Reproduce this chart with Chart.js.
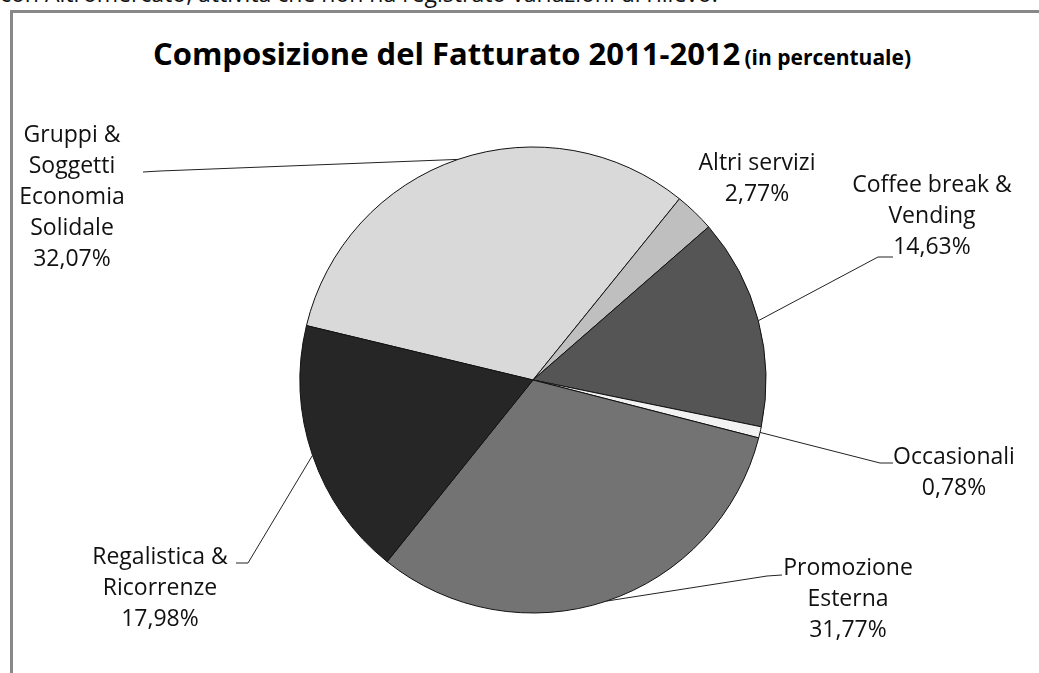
<!DOCTYPE html>
<html>
<head>
<meta charset="utf-8">
<script src="https://cdn.jsdelivr.net/npm/chart.js@4"></script>
<style>
	html, body { margin: 0; padding: 0; background: #fff; }
	body { width: 1039px; height: 673px; position: relative; overflow: hidden; font-family: "Open Sans", sans-serif; color: #111; }
	#intro { position: absolute; left: 0; top: -23px; font-size: 23px; line-height: 32px; white-space: nowrap; }
	#frame { position: absolute; left: 10px; top: 10px; width: 1100px; height: 700px; border-left: 3px solid #888; border-top: 3px solid #888; }
	#title { position: absolute; left: 532px; top: 32px; transform: translateX(-50%); white-space: nowrap; font-weight: bold; color: #000; }
	#title .main { font-size: 31px; }
	#title .sub { font-size: 21px; }
	#chart-wrap { position: absolute; left: 0; top: 0; width: 1039px; height: 673px; }
</style>
</head>
<body>
<div id="intro">con Altromercato, attività che non ha registrato variazioni di rilievo.</div>
<div id="frame"></div>
<div id="title"><span class="main">Composizione del Fatturato 2011-2012</span> <span class="sub">(in percentuale)</span></div>
<div id="chart-wrap"><canvas id="chart-fatturato"></canvas></div>
<script>
// Data
const CATEGORIES = [
	"Gruppi & Soggetti Economia Solidale",
	"Altri servizi",
	"Coffee break & Vending",
	"Occasionali",
	"Promozione Esterna",
	"Regalistica & Ricorrenze",
];
const LABEL_LINES = [
	["Gruppi &", "Soggetti", "Economia", "Solidale"],
	["Altri servizi"],
	["Coffee break &", "Vending"],
	["Occasionali"],
	["Promozione", "Esterna"],
	["Regalistica &", "Ricorrenze"],
];
const VALUES = [32.07, 2.77, 14.63, 0.78, 31.77, 17.98];
const COLORS = ["#d9d9d9", "#bfbfbf", "#555555", "#f2f2f2", "#737373", "#262626"];

// Label placement (manual, as in the original), leader = [elbow, end]
const LABEL_POS = [
	{ x: 72, y: 135, leader: [[160, 171], [143, 172]] },
	{ x: 757, y: 163, leader: null },
	{ x: 932, y: 185, leader: [[878, 257], [893, 257]] },
	{ x: 954, y: 457, leader: [[880, 463], [893, 463]] },
	{ x: 848, y: 568, leader: [[767, 576], [782, 575]] },
	{ x: 160, y: 557, leader: [[248, 563], [236, 563]] },
];
const LINE_H = 31;

const pct = (v) => v.toFixed(2).replace(".", ",") + "%";

// Labels + leader lines
const pieLabels = {
	id: "pieLabels",
	afterDatasetsDraw(chart) {
		const { ctx } = chart;
		const arcs = chart.getDatasetMeta(0).data;
		ctx.save();
		arcs.forEach((arc, i) => {
			const { x, y, startAngle, endAngle, outerRadius } = arc.getProps(["x", "y", "startAngle", "endAngle", "outerRadius"], true);
			const mid = (startAngle + endAngle) / 2;
			const pos = LABEL_POS[i];
			if (pos.leader) {
				ctx.strokeStyle = "#222";
				ctx.lineWidth = 1;
				ctx.beginPath();
				ctx.moveTo(x + Math.cos(mid) * outerRadius, y + Math.sin(mid) * outerRadius);
				pos.leader.forEach((p) => ctx.lineTo(p[0], p[1]));
				ctx.stroke();
			}
			ctx.fillStyle = "#111";
			ctx.font = "23px 'Open Sans'";
			ctx.textAlign = "center";
			ctx.textBaseline = "middle";
			[...LABEL_LINES[i], pct(VALUES[i])].forEach((t, j) => {
				ctx.fillText(t, pos.x, pos.y + j * LINE_H);
			});
		});
		ctx.restore();
	},
};

const CHART_CONFIG = {
	type: "pie",
	data: {
		labels: CATEGORIES,
		datasets: [
			{
				data: VALUES,
				backgroundColor: COLORS,
				borderColor: "#111",
				borderWidth: 1,
				radius: 233,
			},
		],
	},
	options: {
		responsive: true,
		maintainAspectRatio: false,
		animation: false,
		rotation: -76.5,
		layout: {
			padding: { left: 300, right: 273, top: 147, bottom: 60 },
		},
		plugins: {
			legend: { display: false },
			tooltip: { enabled: false },
			title: { display: false },
		},
	},
	plugins: [pieLabels],
};

new Chart(document.getElementById("chart-fatturato"), CHART_CONFIG);
</script>
</body>
</html>
